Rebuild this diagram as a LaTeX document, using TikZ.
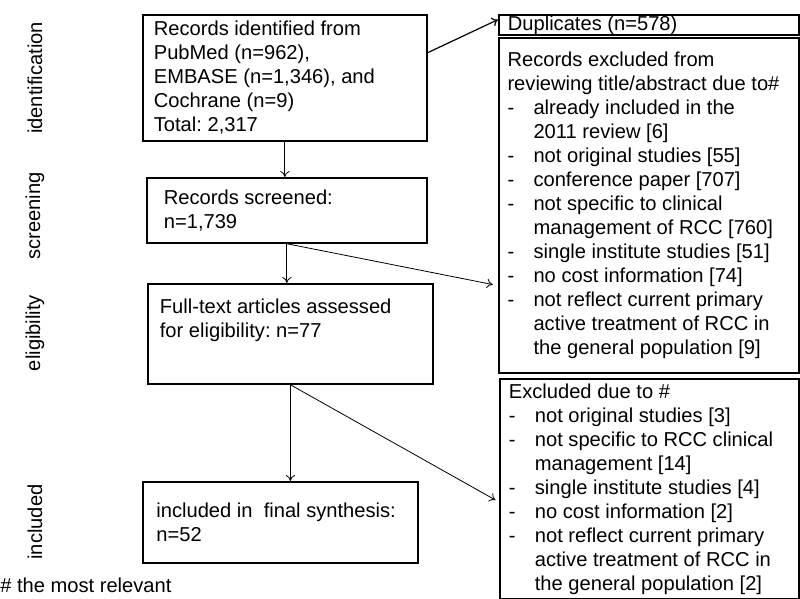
\documentclass[tikz,border=0pt]{standalone}
\usepackage{fontspec}
\setmainfont{Liberation Sans}
\usetikzlibrary{arrows.meta}
\newcommand{\exitem}[1]{\makebox[19.5pt][l]{-}#1}
\newcommand{\excont}[1]{\hspace*{19.5pt}#1}
\begin{document}
\frenchspacing
\begin{tikzpicture}[
                            x=0.75pt, y=-0.75pt,
                            >={To[length=4.5pt,width=7pt]},
                            font=\fontsize{15.1}{18}\selectfont,
                            box/.style={rectangle, draw, line width=1.3pt, anchor=north west, align=flush left, inner ysep=0pt},
                            side/.style={rotate=90, inner sep=0pt},
                            link/.style={->, line width=0.6pt}
                        ]
                        \useasboundingbox (0,0) rectangle (800,599);
                        % Blocks
                        \node [box, minimum width=213pt, minimum height=94.5pt, inner xsep=8.25pt, text width=196.5pt] (ident) at (142,14)
                            {Records identified from\\ PubMed (n=962),\\ EMBASE (n=1,346), and\\ Cochrane (n=9)\\ Total: 2,317};
                        \node [box, minimum width=210pt, minimum height=48.75pt, inner xsep=12.75pt, text width=184.5pt] (screen) at (146,177)
                            {Records screened:\\ n=1,739};
                        \node [box, minimum width=213.75pt, minimum height=75pt, inner xsep=9pt, text width=195.75pt] (elig) at (147,283)
                            {Full-text articles assessed\\ for eligibility: n=77\\ \strut};
                        \node [box, minimum width=206.25pt, minimum height=60.75pt, inner xsep=8pt, text width=190pt] (incl) at (142,481)
                            {\hspace*{2pt}included in\ \ final synthesis:\\ \hspace*{2pt}n=52};
                        \node [box, minimum width=225pt, minimum height=15pt, inner xsep=6.75pt, text width=211.5pt] (dup) at (498,14)
                            {Duplicates (n=578)};
                        \node [box, minimum width=225pt, minimum height=251.25pt, inner xsep=5pt, text width=215pt] (excone) at (498,37)
                            {\hspace*{1.5pt}Records excluded from\\
                             \hspace*{1.5pt}reviewing title/abstract due to\#\\
                             \hspace*{1.5pt}\exitem{already included in the}\\
                             \hspace*{1.5pt}\excont{2011 review [6]}\\
                             \hspace*{1.5pt}\exitem{not original studies [55]}\\
                             \hspace*{1.5pt}\exitem{conference paper [707]}\\
                             \hspace*{1.5pt}\exitem{not specific to clinical}\\
                             \hspace*{1.5pt}\excont{management of RCC [760]}\\
                             \hspace*{1.5pt}\exitem{single institute studies [51]}\\
                             \hspace*{1.5pt}\exitem{no cost information [74]}\\
                             \hspace*{1.5pt}\exitem{not reflect current primary}\\
                             \hspace*{1.5pt}\excont{active treatment of RCC in}\\
                             \hspace*{1.5pt}\excont{the general population [9]}};
                        \node [box, minimum width=224.25pt, minimum height=165pt, inner xsep=6.75pt, text width=210.75pt] (exctwo) at (499,378)
                            {Excluded due to \#\\
                             \exitem{not original studies [3]}\\
                             \exitem{not specific to RCC clinical}\\
                             \excont{management [14]}\\
                             \exitem{single institute studies [4]}\\
                             \exitem{no cost information [2]}\\
                             \exitem{not reflect current primary}\\
                             \excont{active treatment of RCC in}\\
                             \excont{the general population [2]}};

                        % Stage labels
                        \node [side] (lblident) at (35,78) {identification};
                        \node [side] (lblscreen) at (35,216) {screening};
                        \node [side] (lblelig) at (35,333) {eligibility};
                        \node [side] (lblincl) at (35,522) {included};
                        \node [anchor=base west, inner sep=0pt] (note) at (0,592) {\# the most relevant};

                        % Connections
                        \draw [link] (ident.south) -- (ident.south |- screen.north);
                        \draw [link] (screen.south) -- (screen.south |- elig.north);
                        \draw [link] (elig.south) -- (elig.south |- incl.north);
                        \draw [link, line width=0.9pt] (ident.10) -- (dup.178);
                        \draw [link, shorten >=4pt] (screen.south) -- (excone.208);
                        \draw [link, shorten >=3pt] (elig.south) -- (exctwo.185);
                    \end{tikzpicture}
\end{document}
